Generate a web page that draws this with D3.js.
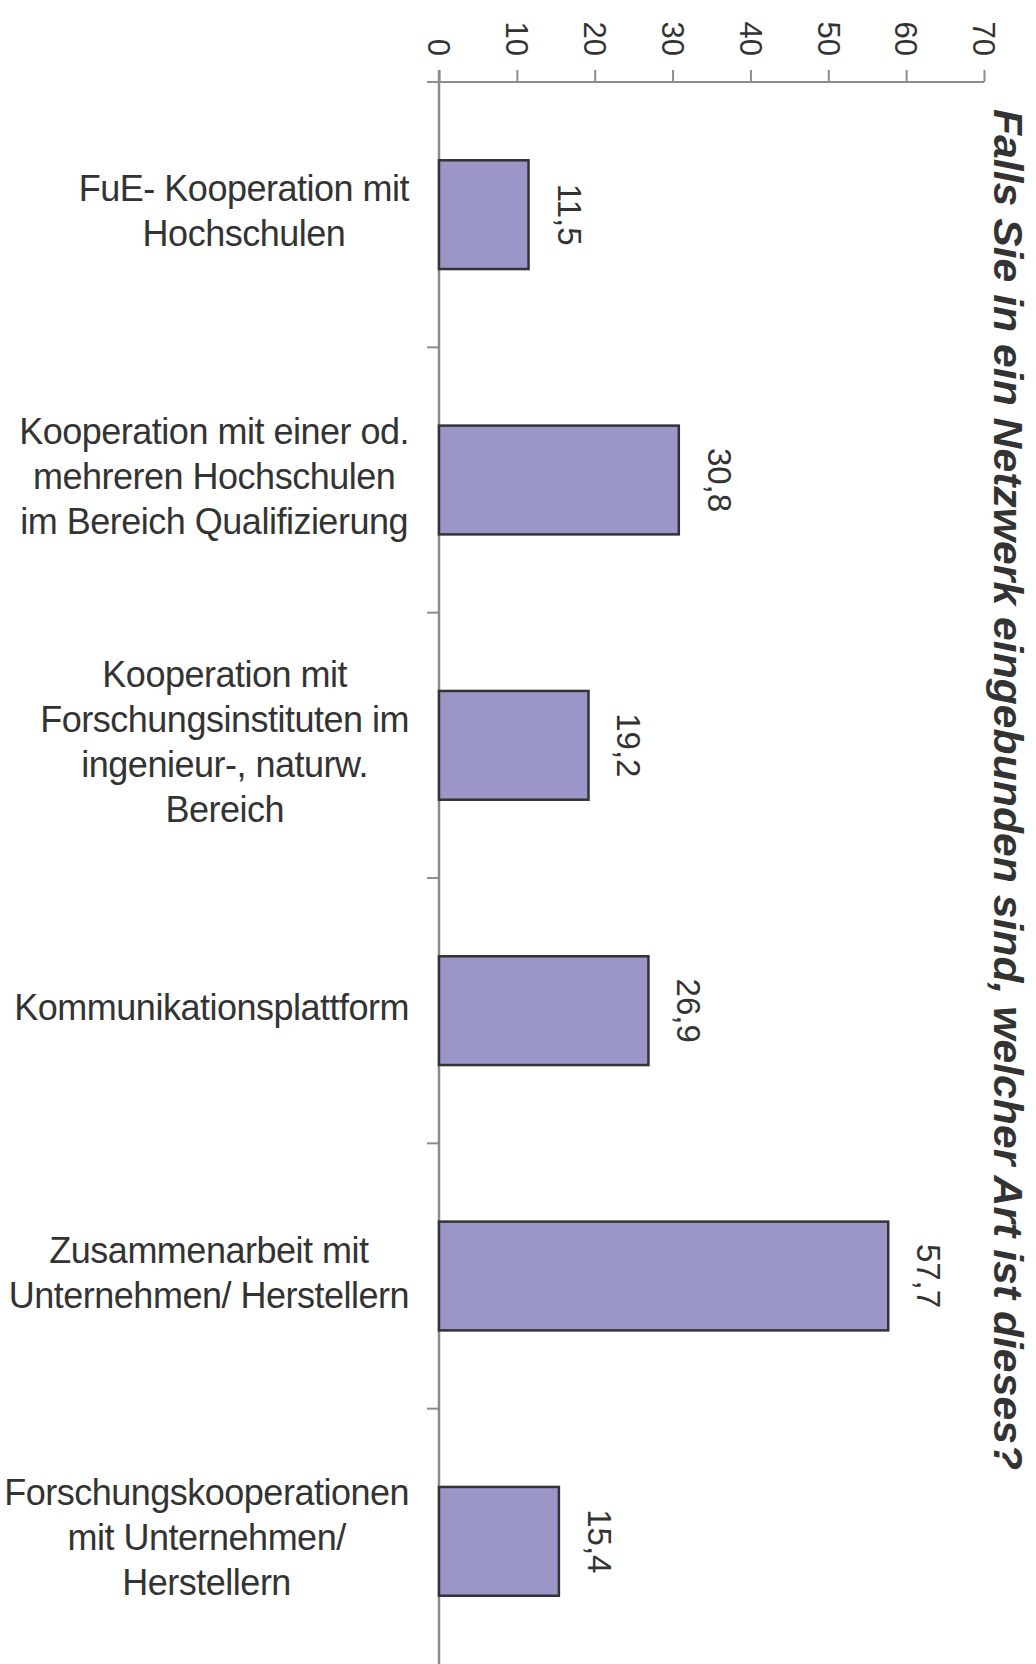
<!DOCTYPE html>
<html>
<head>
<meta charset="utf-8">
<script src="https://cdn.jsdelivr.net/npm/d3@7"></script>
<style>
  body { margin: 0; background: #fff; }
  svg { display: block; }
  text { font-family: "Liberation Sans", Arial, sans-serif; fill: #333; }
</style>
</head>
<body>
<script>
"use strict";

// categories (one entry per bar, split into the printed lines)
const categories = [
    ["FuE- Kooperation mit", "Hochschulen"],
    ["Kooperation mit einer od.", "mehreren Hochschulen", "im Bereich Qualifizierung"],
    ["Kooperation mit", "Forschungsinstituten im", "ingenieur-, naturw.", "Bereich"],
    ["Kommunikationsplattform"],
    ["Zusammenarbeit mit", "Unternehmen/ Herstellern"],
    ["Forschungskooperationen", "mit Unternehmen/", "Herstellern"]
];
// percentages
const values = [11.5, 30.8, 19.2, 26.9, 57.7, 15.4];
// value axis ticks
const tickValues = [0, 10, 20, 30, 40, 50, 60, 70];
const title = "Falls Sie in ein Netzwerk eingebunden sind, welcher Art ist dieses?";

// page and plot dimensions
const measurements = {
    width: 1036,
    height: 1664,
    left: 439,
    right: 984,
    top: 82,
    bottom: 1674
};

const de = d3.formatLocale({ decimal: ",", thousands: ".", grouping: [3], currency: ["", " €"] });
const fmt = de.format(".1f");

const svg = d3.select("body").append("svg")
    .attr("width", measurements.width)
    .attr("height", measurements.height);

const x = d3.scaleLinear()
    .domain([0, 70])
    .range([measurements.left, measurements.right]);

const y = d3.scaleBand()
    .domain(d3.range(categories.length))
    .range([measurements.top, measurements.bottom])
    .paddingInner(0.59)
    .paddingOuter(0.295);

const axisColor = "#8c8c8c";
const tickLen = 12;

// value axis along the top
const topAxis = svg.append("g")
    .attr("transform", `translate(0,${measurements.top})`)
    .call(d3.axisTop(x).tickValues(tickValues).tickSize(tickLen).tickSizeOuter(0));
topAxis.select(".domain").remove();
topAxis.selectAll(".tick line").attr("stroke", axisColor).attr("stroke-width", 2);
topAxis.selectAll(".tick text")
    .attr("y", null)
    .attr("dy", "0.36em")
    .attr("text-anchor", "end")
    .attr("transform", "translate(0,-26) rotate(90)")
    .style("font-size", "31px")
    .style("font-family", "'Liberation Sans', Arial, sans-serif")
    .attr("fill", "#333");

svg.append("line")
    .attr("x1", x(0) - tickLen)
    .attr("x2", x(70))
    .attr("y1", measurements.top)
    .attr("y2", measurements.top)
    .attr("stroke", axisColor)
    .attr("stroke-width", 2);

// category axis on the left (ticks between bands)
svg.append("line")
    .attr("x1", x(0))
    .attr("x2", x(0))
    .attr("y1", measurements.top - tickLen)
    .attr("y2", measurements.bottom)
    .attr("stroke", axisColor)
    .attr("stroke-width", 2.5);

const gap = (y.step() - y.bandwidth()) / 2;
svg.selectAll(".cattick")
    .data(d3.range(1, categories.length))
    .enter()
    .append("line")
    .attr("class", "cattick")
    .attr("x1", x(0) - tickLen)
    .attr("x2", x(0))
    .attr("y1", d => y(d) - gap)
    .attr("y2", d => y(d) - gap)
    .attr("stroke", axisColor)
    .attr("stroke-width", 2);

// bars
svg.selectAll(".bar")
    .data(values)
    .enter()
    .append("rect")
    .attr("class", "bar")
    .attr("x", x(0))
    .attr("y", (d, i) => y(i))
    .attr("width", d => x(d) - x(0))
    .attr("height", y.bandwidth())
    .attr("fill", "#9a96c8")
    .attr("stroke", "#333")
    .attr("stroke-width", 2.5);

// value labels, rotated
svg.selectAll(".val")
    .data(values)
    .enter()
    .append("text")
    .attr("class", "val")
    .attr("text-anchor", "middle")
    .attr("transform", (d, i) => `translate(${x(d) + 29},${y(i) + y.bandwidth() / 2}) rotate(90)`)
    .style("font-size", "33px")
    .text(d => fmt(d));

// category labels: lines centred in a block, block right-aligned
const labelRight = 409;
const lineH = 45;
categories.forEach((lines, i) => {
    const cy = y(i) + y.bandwidth() / 2 - 3;
    const g = svg.append("g");
    const t = g.selectAll("text")
        .data(lines)
        .enter()
        .append("text")
        .attr("text-anchor", "middle")
        .attr("y", (d, j) => cy + (j - (lines.length - 1) / 2) * lineH + 12)
        .style("font-size", "36px")
        .style("letter-spacing", "-0.5px")
        .text(d => d);
    let maxW = 0;
    t.each(function () { maxW = Math.max(maxW, this.getComputedTextLength()); });
    t.attr("x", labelRight - maxW / 2);
});

// title, rotated on the right
svg.append("text")
    .attr("transform", "translate(994,109) rotate(90)")
    .attr("text-anchor", "start")
    .attr("textLength", 1361)
    .attr("lengthAdjust", "spacingAndGlyphs")
    .style("font-size", "41px")
    .style("font-weight", "bold")
    .style("font-style", "italic")
    .text(title);
</script>
</body>
</html>
